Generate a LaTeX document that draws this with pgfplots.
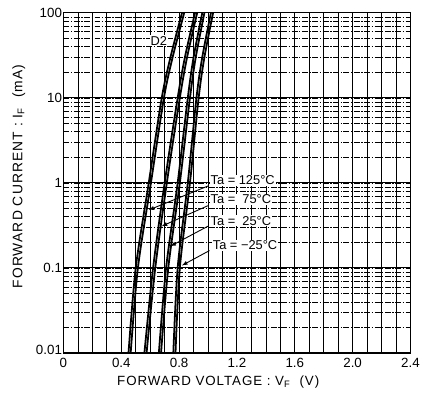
\documentclass[border=0pt]{standalone}
\usepackage{fontspec}
\setmainfont{Liberation Sans}
\usepackage{pgfplots}
\pgfplotsset{compat=1.18}
\begin{document}
\begin{tikzpicture}
\begin{axis}[
  scale only axis,
  width=350bp, height=343bp,
  xmin=0, xmax=2.4,
  ymode=log, ymin=0.01, ymax=100,
  xtick={0,0.4,0.8,1.2,1.6,2.0,2.4},
  xticklabels={0,0.4,0.8,1.2,1.6,2.0,2.4},
  ytick={0.01,0.1,1,10,100},
  yticklabels={\raisebox{7bp}{0.01},0.1,1,10,100},
  minor x tick num=3,
  major tick length=0pt, minor tick length=0pt,
  grid=both,
  major grid style={black, line width=0.9pt},
  minor x grid style={black, line width=0.7pt},
  minor y grid style={black, line width=0.5pt, dash pattern=on 6pt off 1.5pt on 1.5pt off 1.5pt},
  axis line style={black, line width=1.2pt},
  /pgf/number format/assume math mode=true,
  tick label style={font=\fontsize{13.5}{15}\selectfont},
  xticklabel style={yshift=-2bp},
  yticklabel style={xshift=2bp},
  every axis x label/.style={at={(axis description cs:0.446,-0.085)},anchor=center},
  every axis y label/.style={at={(axis description cs:-0.129,0.519)},rotate=90,anchor=center},
  xlabel={\fontsize{13.5}{15}\selectfont\addfontfeature{LetterSpace=7}FORWARD VOLTAGE : V\textsubscript{F}\ \ (V)},
  ylabel={\fontsize{14}{16}\selectfont\addfontfeature{LetterSpace=8}FORWARD CURRENT : I\textsubscript{F}\ \ (mA)},
  clip=true,
]
% 125 C
\addplot[black, line width=1.8pt, smooth] coordinates {(0.45,0.01) (0.50,0.1) (0.59,1) (0.68,10) (0.74,30) (0.82,100)};
\addplot[black, line width=1.8pt, smooth] coordinates {(0.465,0.01) (0.515,0.1) (0.605,1) (0.695,10) (0.755,30) (0.835,100)};
% 75 C
\addplot[black, line width=1.8pt, smooth] coordinates {(0.56,0.01) (0.62,0.1) (0.70,1) (0.79,10) (0.84,30) (0.91,100)};
\addplot[black, line width=1.8pt, smooth] coordinates {(0.575,0.01) (0.635,0.1) (0.715,1) (0.805,10) (0.855,30) (0.925,100)};
% 25 C
\addplot[black, line width=1.8pt, smooth] coordinates {(0.66,0.01) (0.71,0.1) (0.79,1) (0.86,10) (0.90,30) (0.96,100)};
\addplot[black, line width=1.8pt, smooth] coordinates {(0.675,0.01) (0.725,0.1) (0.805,1) (0.875,10) (0.915,30) (0.975,100)};
% -25 C
\addplot[black, line width=1.8pt, smooth] coordinates {(0.76,0.01) (0.79,0.1) (0.86,1) (0.92,10) (0.96,30) (1.02,100)};
\addplot[black, line width=1.8pt, smooth] coordinates {(0.775,0.01) (0.805,0.1) (0.875,1) (0.935,10) (0.975,30) (1.035,100)};
% arrows
\addplot[black, line width=0.9pt, -latex] coordinates {(1.00,0.92) (0.59,0.48)};
\addplot[black, line width=0.9pt, -latex] coordinates {(1.00,0.54) (0.68,0.31)};
\addplot[black, line width=0.9pt, -latex] coordinates {(1.00,0.31) (0.74,0.18)};
\addplot[black, line width=0.9pt, -latex] coordinates {(1.01,0.16) (0.82,0.107)};
% labels
\node[anchor=west, fill=white, inner sep=1pt, font=\fontsize{13}{15}\selectfont] at (axis cs:1.01,1.08) {Ta = 125°C};
\node[anchor=west, fill=white, inner sep=1pt, font=\fontsize{13}{15}\selectfont] at (axis cs:1.01,0.64) {Ta = \ 75°C};
\node[anchor=west, fill=white, inner sep=1pt, font=\fontsize{13}{15}\selectfont] at (axis cs:1.01,0.36) {Ta = \ 25°C};
\node[anchor=west, fill=white, inner sep=1pt, font=\fontsize{13}{15}\selectfont] at (axis cs:1.025,0.185) {Ta = −25°C};
\node[fill=white, inner sep=1pt, font=\fontsize{13}{15}\selectfont] at (axis cs:0.66,47) {D2};
\end{axis}
\path (current axis.south west) ++(-64bp,-52bp) rectangle ++(423bp,408bp);
\end{tikzpicture}
\end{document}
